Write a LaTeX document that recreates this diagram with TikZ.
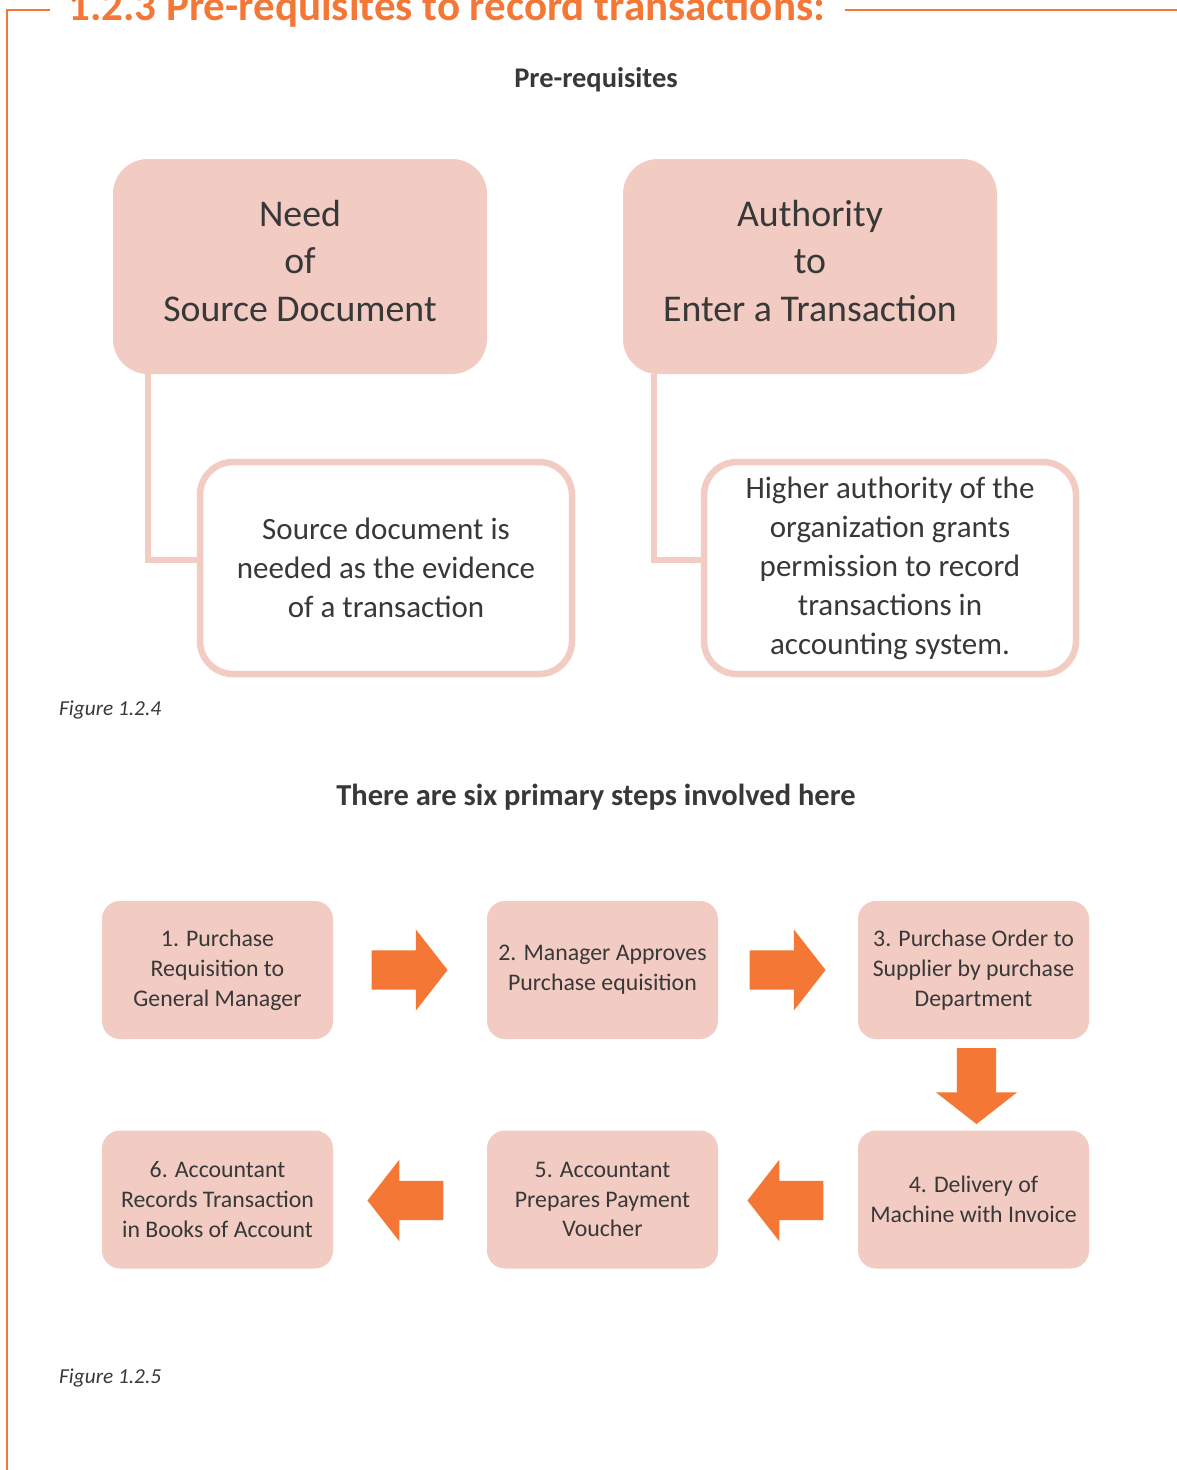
\documentclass[tikz,border=0pt]{standalone}
\usepackage{fontspec}
\setmainfont{Carlito}
\usetikzlibrary{calc,shapes.arrows}

\definecolor{boxpink}{HTML}{F2CBC3}
\definecolor{accent}{HTML}{F47735}
\definecolor{ink}{HTML}{383838}

\tikzset{
  headbox/.style={rectangle, rounded corners=35pt, fill=boxpink, text=ink,
    minimum width=374pt, minimum height=215pt, align=center, inner sep=0pt,
    text depth=12pt, font=\fontsize{37.8}{47.5}\selectfont},
  notebox/.style={rectangle, rounded corners=33pt, fill=white, draw=boxpink,
    line width=6.5pt, text=ink, minimum width=372pt, minimum height=212pt,
    align=center, inner sep=0pt, font=\fontsize{31}{39}\selectfont},
  stepbox/.style={rectangle, rounded corners=18pt, fill=boxpink, text=ink,
    minimum width=231pt, minimum height=138pt, align=center, inner sep=0pt,
    font=\fontsize{23.8}{29.8}\selectfont},
  conn/.style={draw=boxpink, line width=6.5pt},
  blockarrow/.style={single arrow, fill=accent, draw=none,
    inner sep=19.5pt, text width=0pt, anchor=tip,
    minimum height=76pt, single arrow head extend=21pt,
    single arrow tip angle=104},
  caption/.style={anchor=west, inner sep=0pt, text=ink,
    font=\fontsize{21.3}{25}\selectfont\itshape},
  heading/.style={text=ink, inner sep=0pt}
}

\begin{document}
\begin{tikzpicture}[x=1pt, y=-1pt]
  \useasboundingbox (0,0) rectangle (1177,1470);

  % section frame and title
  \draw[accent, line width=2.5pt] (50,10) -- (7,10) -- (7,1472);
  \draw[accent, line width=2.5pt] (845,10) -- (1180,10);
  \node[anchor=base west, text=accent, inner sep=0pt,
        font=\fontsize{43}{48}\selectfont\bfseries] (title) at (68,20)
        {1.2.3 Pre-requisites to record transactions:};

  % first figure: prerequisites
  \node[heading, font=\fontsize{28.5}{32}\selectfont\bfseries] (pre) at (596,80) {Pre-requisites};

  \node[headbox] (need) at (300,266.5) {Need\\of\\Source Document};
  \node[headbox] (auth) at (810,266.5) {Authority\\to\\Enter a Transaction};

  \node[notebox] (srcnote) at (386,568)
    {Source document is\\needed as the evidence\\of a transaction};
  \node[notebox] (authnote) at (890,568)
    {Higher authority of the\\organization grants\\permission to record\\transactions in\\accounting system.};

  \coordinate (srcjoin) at ([yshift=8pt]srcnote.west);
  \coordinate (authjoin) at ([yshift=8pt]authnote.west);
  \draw[conn] ([xshift=35pt]need.south west) |- (srcjoin);
  \draw[conn] ([xshift=31pt]auth.south west) |- (authjoin);

  \node[caption] (fig4) at (59,710) {Figure 1.2.4};

  % second figure: six steps
  \node[heading, font=\fontsize{30.5}{34}\selectfont\bfseries] (six) at (596,797)
    {There are six primary steps involved here};

  \node[stepbox] (s1) at (217.5,970) {1. Purchase\\Requisition to\\General Manager};
  \node[stepbox] (s2) at (602.5,970) {2. Manager Approves\\Purchase equisition};
  \node[stepbox] (s3) at (973.5,970) {3. Purchase Order to\\Supplier by purchase\\Department};
  \node[stepbox] (s4) at (973.5,1199.5) {4. Delivery of\\Machine with Invoice};
  \node[stepbox] (s5) at (602.5,1199.5) {5. Accountant\\Prepares Payment\\Voucher};
  \node[stepbox] (s6) at (217.5,1199.5) {6. Accountant\\Records Transaction\\in Books of Account};

  % block arrows, each placed by its tip next to the step it points at
  \node[blockarrow] (a12) at ([xshift=-39pt]s2.west) {};
  \node[blockarrow] (a23) at ([xshift=-32pt]s3.west) {};
  \node[blockarrow, shape border rotate=270] (a34) at ([xshift=3pt, yshift=6pt]s4.north) {};
  \node[blockarrow, shape border rotate=180] (a45) at ([xshift=29pt, yshift=-1pt]s5.east) {};
  \node[blockarrow, shape border rotate=180] (a56) at ([xshift=34pt, yshift=-1pt]s6.east) {};

  \node[caption] (fig5) at (59,1378) {Figure 1.2.5};
\end{tikzpicture}
\end{document}
